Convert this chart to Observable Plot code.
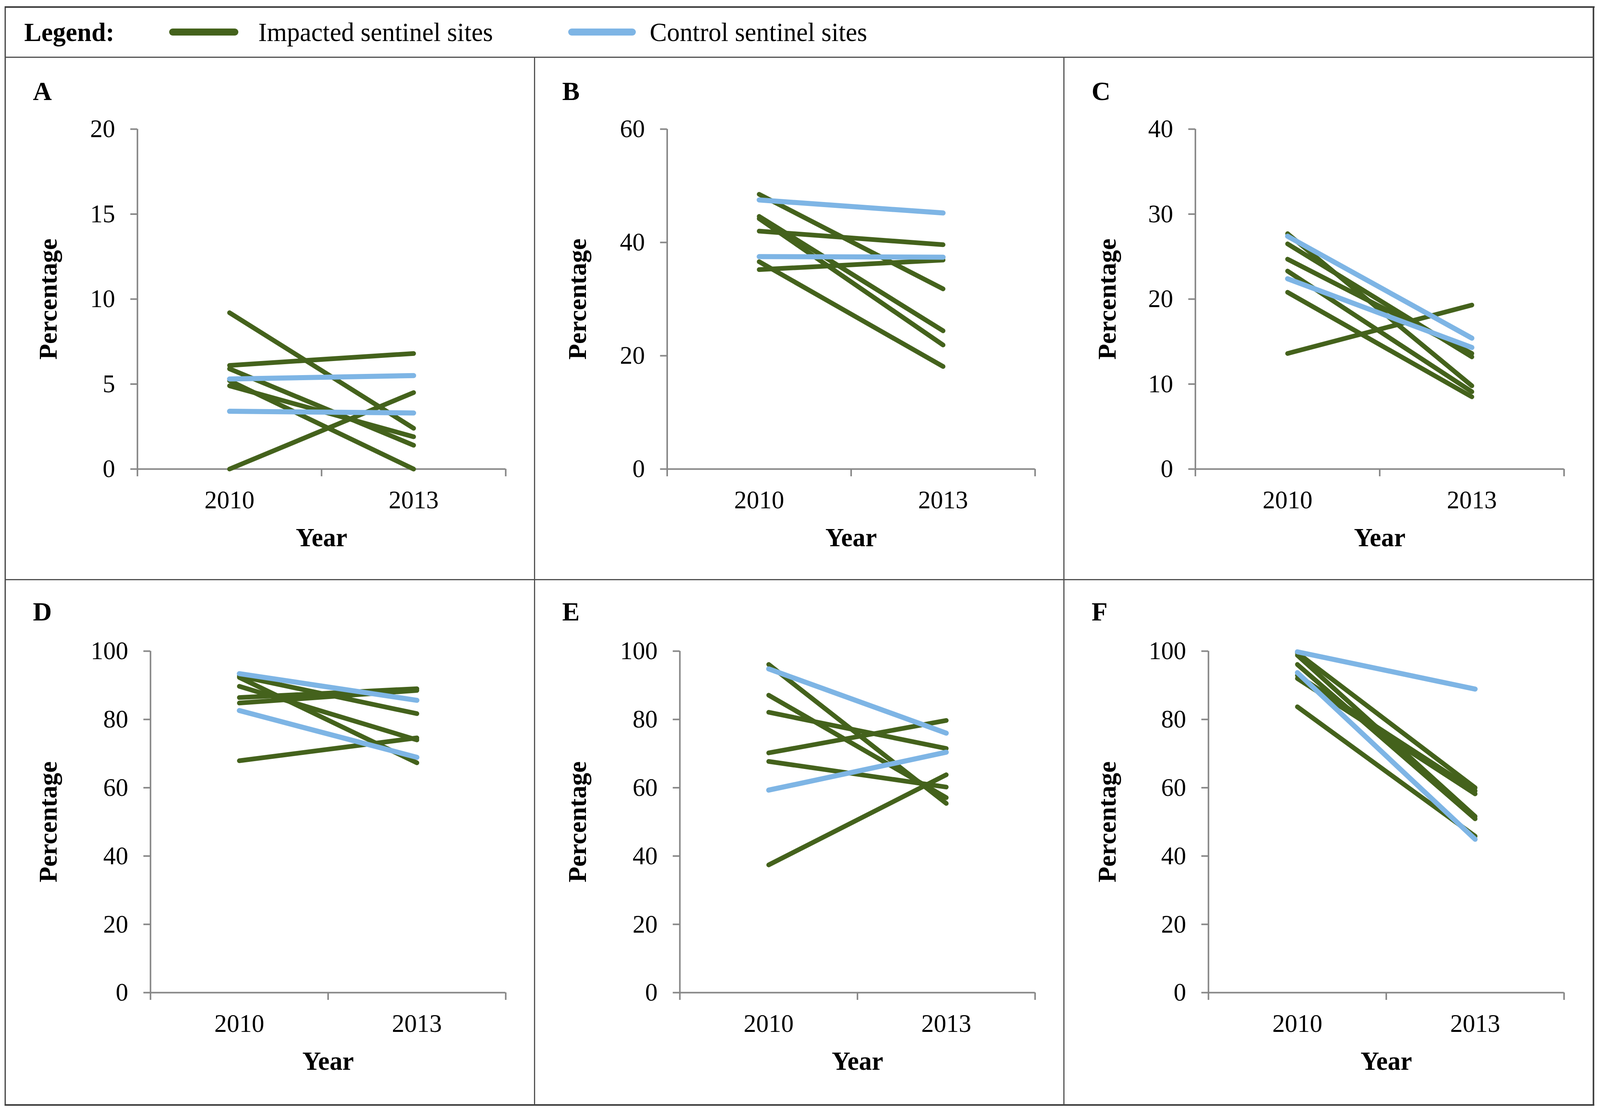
<!DOCTYPE html>
<html>
<head>
<meta charset="utf-8">
<script src="https://cdn.jsdelivr.net/npm/d3@7"></script>
<script src="https://cdn.jsdelivr.net/npm/@observablehq/plot@0.6"></script>
<style>
  html, body { margin: 0; padding: 0; background: #fff; overflow: hidden; }
  #root { position: absolute; left: 0; top: 0; width: 4162px; height: 2846px; background: #fff;
          font-family: "Liberation Serif", "Times New Roman", serif; overflow: hidden;
          transform-origin: 0 0; }
  .panel { position: absolute; }
  .rule { position: absolute; background: #505050; z-index: 5; }
  .ltext { position: absolute; font-size: 67px; line-height: 67px; color: #000; white-space: nowrap; }
  .swatch { position: absolute; height: 18px; border-radius: 9px; }
</style>
</head>
<body>
<div id="root"></div>
<script>
// ---------- data ----------
const years = [2010, 2013];

// each pair = [2010 value, 2013 value] for one sentinel site
const impactedA = [[9.2, 2.4], [6.1, 6.8], [5.9, 1.4], [5.2, 0.0], [4.9, 1.9], [0.0, 4.5]];
const controlA  = [[5.3, 5.5], [3.4, 3.3]];

const impactedB = [[48.5, 31.8], [44.6, 24.4], [44.2, 21.9], [42.0, 39.6], [36.6, 18.1], [35.2, 36.9]];
const controlB  = [[47.5, 45.2], [37.5, 37.4]];

const impactedC = [[27.7, 9.8], [26.5, 13.2], [24.7, 13.6], [23.3, 9.1], [20.8, 8.5], [13.6, 19.3]];
const controlC  = [[27.4, 15.4], [22.4, 14.3]];

const impactedD = [[92.7, 81.7], [92.3, 67.3], [89.7, 74.0], [86.4, 89.0], [84.8, 88.5], [67.9, 74.6]];
const controlD  = [[93.4, 85.6], [82.6, 68.9]];

const impactedE = [[96.1, 55.4], [87.1, 57.1], [82.1, 71.5], [70.2, 79.7], [67.7, 60.2], [37.4, 63.8]];
const controlE  = [[94.8, 76.0], [59.3, 70.4]];

const impactedF = [[99.5, 60.0], [98.8, 51.6], [96.1, 50.9], [92.9, 59.1], [92.0, 58.2], [83.7, 45.8]];
const controlF  = [[99.8, 88.9], [93.7, 44.9]];

const yTicksA = [0, 5, 10, 15, 20];
const yTicksB = [0, 20, 40, 60];
const yTicksC = [0, 10, 20, 30, 40];
const yTicksD = [0, 20, 40, 60, 80, 100];
const yTicksE = [0, 20, 40, 60, 80, 100];
const yTicksF = [0, 20, 40, 60, 80, 100];

const panelLetters = ["A", "B", "C", "D", "E", "F"];
const seriesNames = ["Impacted sentinel sites", "Control sentinel sites"];
const legendTitle = "Legend:";
const xTitle = "Year";
const yTitle = "Percentage";

// ---------- styling / layout ----------
const GREEN = "#44621c";
const BLUE = "#7eb5e5";
const AXIS = "#878787";
const FONT = "Liberation Serif, Times New Roman, serif";

const colEdges = [13, 1390, 2767, 4145];
const rowEdges = [146, 1483, 2827];
// absolute frame [left, right, top, bottom] for each panel
const frames = [
  [357, 1315, 330, 1200], [1735, 2692, 330, 1200], [3109, 4068, 330, 1200],
  [391, 1315, 1666, 2540], [1768, 2692, 1666, 2540], [3143, 4068, 1666, 2540]
];

const root = document.getElementById("root");

function toRows(pairs, group) {
  return pairs.flatMap((p, i) => years.map((yr, j) => ({ year: yr, value: p[j], site: group + i, group })));
}

const panels = [
  [impactedA, controlA, yTicksA], [impactedB, controlB, yTicksB], [impactedC, controlC, yTicksC],
  [impactedD, controlD, yTicksD], [impactedE, controlE, yTicksE], [impactedF, controlF, yTicksF]
];

panels.forEach(([imp, ctl, yTicks], k) => {
  const col = k % 3, row = Math.floor(k / 3);
  const [fl, fr, ft, fb] = frames[k];
  const cl = colEdges[col], cr = colEdges[col + 1], ct = rowEdges[row], cb = rowEdges[row + 1];
  const ml = fl - cl, mr = cr - fr, mt = ft - ct, mb = cb - fb;
  const x0 = years[0] - 1.5, x1 = years[1] + 1.5, xm = (years[0] + years[1]) / 2;
  const chart = Plot.plot({
    width: cr - cl,
    height: cb - ct,
    marginLeft: ml, marginRight: mr, marginTop: mt, marginBottom: mb,
    style: { fontFamily: FONT, background: "transparent", overflow: "visible", color: "#000" },
    x: { type: "linear", domain: [x0, x1], label: null },
    y: { domain: [yTicks[0], yTicks[yTicks.length - 1]], label: null },
    marks: [
      Plot.ruleX([x0], { stroke: AXIS, strokeWidth: 4 }),
      Plot.ruleY([yTicks[0]], { stroke: AXIS, strokeWidth: 4 }),
      Plot.axisY({ ticks: yTicks, tickSize: 18, tickPadding: 40, stroke: AXIS, strokeWidth: 4,
                   fontSize: 65, label: null, tickFormat: d => String(d) }),
      Plot.axisX({ ticks: [x0, xm, x1], tickSize: 19, stroke: AXIS, strokeWidth: 4,
                   tickFormat: () => "", label: null }),
      Plot.axisX({ ticks: years, tickSize: 0, tickPadding: 54, fontSize: 65,
                   tickFormat: d => String(d), label: null }),
      Plot.line(toRows(imp, "Impacted"), { x: "year", y: "value", z: "site", stroke: GREEN,
                   strokeWidth: 12, strokeLinecap: "round", strokeLinejoin: "round" }),
      Plot.line(toRows(ctl, "Control"), { x: "year", y: "value", z: "site", stroke: BLUE,
                   strokeWidth: 13, strokeLinecap: "round", strokeLinejoin: "round" }),
      Plot.text([xTitle], { text: d => d, frameAnchor: "bottom", textAnchor: "middle", lineAnchor: "middle",
                   dy: 176, fontSize: 67, fontWeight: "bold" }),
      Plot.text([yTitle], { text: d => d, frameAnchor: "left", textAnchor: "middle", lineAnchor: "middle",
                   rotate: -90, dx: 113 - ml, fontSize: 66, fontWeight: "bold" }),
      Plot.text([panelLetters[k]], { text: d => d, frameAnchor: "top-left", textAnchor: "start", lineAnchor: "middle",
                   dx: 72 - ml, dy: (row ? 83 : 88) - mt, fontSize: 68, fontWeight: "bold" })
    ]
  });
  chart.classList.add("panel");
  chart.style.left = cl + "px";
  chart.style.top = ct + "px";
  chart.style.maxWidth = "none";
  root.appendChild(chart);
});

// ---------- legend row ----------
function addText(txt, left, top, bold) {
  const d = document.createElement("div");
  d.className = "ltext";
  d.textContent = txt;
  d.style.left = left + "px";
  d.style.top = top + "px";
  if (bold) d.style.fontWeight = "bold";
  root.appendChild(d);
}
function addSwatch(color, left, width) {
  const s = document.createElement("div");
  s.className = "swatch";
  s.style.background = color;
  s.style.left = left + "px";
  s.style.width = width + "px";
  s.style.top = "73px";
  root.appendChild(s);
}
addText(legendTitle, 63, 49, true);
addSwatch(GREEN, 440, 180);
addText(seriesNames[0], 672, 49, false);
addSwatch(BLUE, 1478, 176);
addText(seriesNames[1], 1690, 49, false);

// ---------- borders ----------
function addRule(left, top, width, height, color) {
  const r = document.createElement("div");
  r.className = "rule";
  r.style.left = left + "px"; r.style.top = top + "px";
  r.style.width = width + "px"; r.style.height = height + "px";
  if (color) r.style.background = color;
  root.appendChild(r);
}
const OUT = "#3a3a3a";
addRule(13, 16, 4135, 4, OUT);          // top
addRule(12, 16, 3, 2814, OUT);          // left
addRule(4143, 16, 4, 2814, OUT);        // right
addRule(12, 2826, 4135, 4, OUT);        // bottom
addRule(13, 145, 4132, 3);              // legend separator
addRule(13, 1482, 4132, 3);             // row separator
addRule(1389, 146, 3, 2681);            // column separators
addRule(2766, 146, 3, 2681);

// fit the 4162x2846 layout to the actual viewport
function fit() {
  const sx = window.innerWidth / 4162, sy = window.innerHeight / 2846;
  root.style.transform = "scale(" + sx + "," + sy + ")";
}
fit();
window.addEventListener("resize", fit);
</script>
</body>
</html>
